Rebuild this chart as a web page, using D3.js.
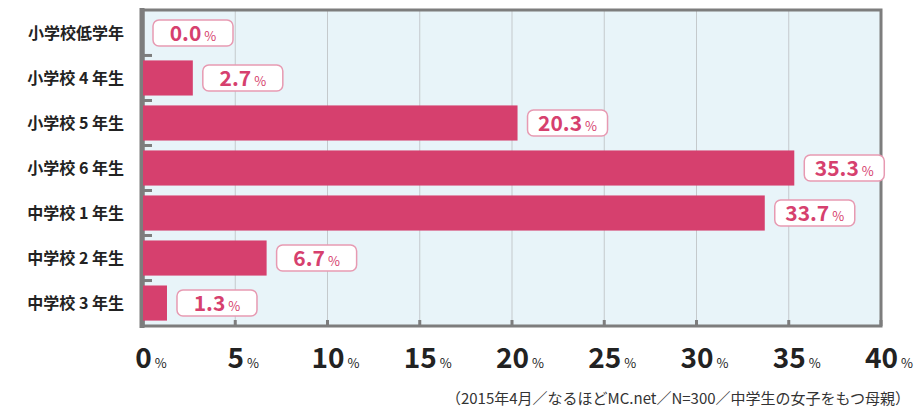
<!DOCTYPE html>
<html><head><meta charset="utf-8">
<script src="https://cdn.jsdelivr.net/npm/d3@7"></script>
<style>body{margin:0;background:#fff}</style>
</head><body>
<svg id="chart" width="917" height="413"></svg>
<script>
// data
let categories = ["小学校低学年", "小学校 4 年生", "小学校 5 年生", "小学校 6 年生", "中学校 1 年生", "中学校 2 年生", "中学校 3 年生"];
let values = [0.0, 2.7, 20.3, 35.3, 33.7, 6.7, 1.3];
let ticks = [0, 5, 10, 15, 20, 25, 30, 35, 40];

let svg = d3.select("#chart");
let font = "'Noto Sans CJK JP', sans-serif";
let pink = "#d6406e";

let x = d3.scaleLinear().domain([0, 40]).range([143, 881]);
let y = d3.scaleBand().domain(categories).range([10, 326]).paddingInner(0.22).paddingOuter(0.12);

// background panel
svg.append("rect").attr("x", 143).attr("y", 10).attr("width", 738).attr("height", 316).attr("fill", "#e8f4f9");

// grid
svg.selectAll(".grid").data(ticks.slice(1, -1)).join("line")
    .attr("x1", d => x(d)).attr("x2", d => x(d))
    .attr("y1", 10).attr("y2", 326)
    .attr("stroke", "#c4c9cc").attr("stroke-width", 1);

// frame
svg.append("path").attr("d", "M143,10H881V326H143Z").attr("fill", "none").attr("stroke", "#7d7d7d").attr("stroke-width", 3);
svg.append("line").attr("x1", 142).attr("x2", 142).attr("y1", 8).attr("y2", 328).attr("stroke", "#7d7d7d").attr("stroke-width", 5);

// small ticks
svg.selectAll(".bt").data(ticks).join("line")
    .attr("x1", d => x(d)).attr("x2", d => x(d)).attr("y1", 320).attr("y2", 326)
    .attr("stroke", "#7d7d7d").attr("stroke-width", 3);
let bounds = categories.slice(1).map(c => y(c) - y.step() * y.paddingInner() / 2);
svg.selectAll(".lt").data(bounds).join("line")
    .attr("x1", 143).attr("x2", 152).attr("y1", d => d).attr("y2", d => d)
    .attr("stroke", "#7d7d7d").attr("stroke-width", 3);

// bars
svg.selectAll(".bar").data(values).join("rect")
    .attr("x", x(0)).attr("y", (d, i) => y(categories[i]))
    .attr("width", d => x(d) - x(0)).attr("height", y.bandwidth())
    .attr("fill", pink);

// value labels
let lab = svg.selectAll(".lab").data(values).join("g")
    .attr("transform", (d, i) => `translate(${x(d) + 10},${y(categories[i]) + y.bandwidth() / 2})`);
lab.append("rect").attr("x", 0).attr("y", -13).attr("width", 80).attr("height", 26).attr("rx", 6)
    .attr("fill", "#fff").attr("stroke", "#e79ab2").attr("stroke-width", 1.5);
let lt = lab.append("text").attr("x", 40).attr("y", 8).attr("text-anchor", "middle")
    .attr("font-family", font).attr("fill", pink);
lt.append("tspan").attr("font-size", 21).attr("font-weight", "bold").text(d => d.toFixed(1));
lt.append("tspan").attr("font-size", 13).attr("dx", 3).text("%");

// category labels
svg.selectAll(".cat").data(categories).join("text")
    .attr("x", 124).attr("y", d => y(d) + y.bandwidth() / 2 + 6)
    .attr("text-anchor", "end").attr("font-family", font).attr("font-size", 16).attr("font-weight", "bold")
    .attr("fill", "#222").text(d => d);

// x tick labels
let xt = svg.selectAll(".xt").data(ticks).join("text")
    .attr("x", d => x(d) + 8).attr("y", 368).attr("text-anchor", "middle")
    .attr("font-family", font).attr("fill", "#222");
xt.append("tspan").attr("font-size", 28).attr("font-weight", "bold").text(d => d);
xt.append("tspan").attr("font-size", 13).attr("dx", 3).text("%");

svg.append("text").attr("x", 910).attr("y", 404).attr("text-anchor", "end")
    .attr("font-family", font).attr("font-size", 15).attr("fill", "#333")
    .text("（2015年4月／なるほどMC.net／N=300／中学生の女子をもつ母親）");
</script>
</body></html>
